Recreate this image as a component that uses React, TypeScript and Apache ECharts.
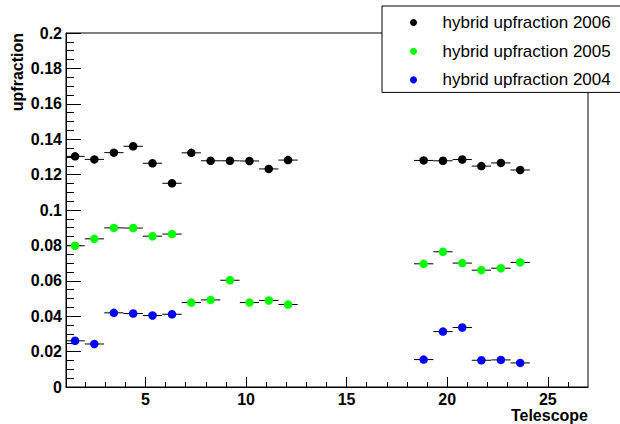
import React, { useEffect, useRef } from "react";
import * as echarts from "echarts";

// Telescope positions (x) for the two groups of telescopes
const telescopeX = [
  1.5, 2.46, 3.43, 4.39, 5.35, 6.32, 7.28, 8.24, 9.2, 10.17, 11.13, 12.09,
  18.83, 19.79, 20.75, 21.7, 22.67, 23.63,
];

// Up-going fraction per telescope and year
const up2006 = [
  0.1303, 0.1286, 0.1324, 0.136, 0.1264, 0.1151, 0.1323, 0.1278, 0.1278, 0.1277, 0.1232, 0.1282,
  0.128, 0.1278, 0.1285, 0.1248, 0.1266, 0.1226,
];
const up2005 = [
  0.0798, 0.0837, 0.0899, 0.0898, 0.0852, 0.0864, 0.0477, 0.0492, 0.0603, 0.0477, 0.0489, 0.0466,
  0.0696, 0.0764, 0.07, 0.066, 0.0671, 0.0704,
];
const up2004: (number | null)[] = [
  0.0261, 0.0243, 0.0419, 0.0415, 0.0404, 0.0411, null, null, null, null, null, null,
  0.0155, 0.0313, 0.0336, 0.0151, 0.0153, 0.0136,
];

const seriesNames = ["hybrid upfraction 2006", "hybrid upfraction 2005", "hybrid upfraction 2004"];
const seriesColors = ["#000000", "#00ff00", "#0000ff"];
const seriesValues = [up2006, up2005, up2004];

// Half width of the horizontal error bars (in telescope units)
const X_ERR = 0.48;

const xMajorTicks = [5, 10, 15, 20, 25];
const xMinorTicks = [2, 3, 4, 6, 7, 8, 9, 11, 12, 13, 14, 16, 17, 18, 19, 21, 22, 23, 24, 26];

const FONT = "Liberation Sans, Arial, Helvetica, sans-serif";

export default function App() {
  const ref = useRef<HTMLDivElement>(null);

  useEffect(() => {
    if (!ref.current) return;
    const chart = echarts.init(ref.current, undefined, { renderer: "svg" });

    const points = seriesValues.map((vals) =>
      telescopeX
        .map((x, i) => [x, vals[i]])
        .filter((p) => p[1] !== null && p[1] !== undefined)
    );

    const errorBars = points.map((data, k) => ({
      type: "custom" as const,
      name: seriesNames[k] + " err",
      xAxisIndex: 0,
      yAxisIndex: 0,
      clip: true,
      silent: true,
      data,
      renderItem: (_params: any, api: any) => {
        const x = api.value(0);
        const y = api.value(1);
        const a = api.coord([x - X_ERR, y]);
        const b = api.coord([x + X_ERR, y]);
        return {
          type: "line",
          shape: { x1: a[0], y1: a[1], x2: b[0], y2: b[1] },
          style: { stroke: "#000", lineWidth: 1 },
        };
      },
      z: 1,
    }));

    const markers = points.map((data, k) => ({
      type: "scatter" as const,
      name: seriesNames[k],
      xAxisIndex: 0,
      yAxisIndex: 0,
      symbol: "circle",
      symbolSize: 8.5,
      itemStyle: { color: seriesColors[k], opacity: 1 },
      data,
      z: 2,
    }));

    const labelStyle = {
      color: "#000",
      fontFamily: FONT,
      fontWeight: "bold" as const,
      fontSize: 16,
    };

    chart.setOption({
      animation: false,
      backgroundColor: "#fff",
      grid: {
        left: 66,
        right: 32,
        top: 33,
        bottom: 37,
        show: true,
        borderColor: "#000",
        borderWidth: 1,
        backgroundColor: "transparent",
      },
      xAxis: [
        {
          type: "value",
          min: 1.05,
          max: 27,
          position: "bottom",
          axisLine: { show: true, onZero: false, lineStyle: { color: "#000", width: 1 } },
          axisTick: { show: true, inside: true, length: 10, customValues: xMajorTicks, lineStyle: { color: "#000" } },
          axisLabel: { ...labelStyle, margin: 4, customValues: xMajorTicks },
          splitLine: { show: false },
        },
        {
          type: "value",
          min: 1.05,
          max: 27,
          position: "bottom",
          axisLine: { show: false },
          axisTick: { show: true, inside: true, length: 5, customValues: xMinorTicks, lineStyle: { color: "#000" } },
          axisLabel: { show: false },
          splitLine: { show: false },
        },
      ],
      yAxis: {
        type: "value",
        min: 0,
        max: 0.2,
        interval: 0.02,
        axisLine: { show: true, onZero: false, lineStyle: { color: "#000", width: 1 } },
        axisTick: { show: true, inside: true, length: 15, lineStyle: { color: "#000" } },
        minorTick: { show: true, splitNumber: 4, length: 8, lineStyle: { color: "#000" } },
        axisLabel: {
          ...labelStyle,
          margin: 4,
          formatter: (v: number) => String(+v.toFixed(3)),
        },
        splitLine: { show: false },
        minorSplitLine: { show: false },
      },
      legend: {
        data: seriesNames,
        orient: "vertical",
        left: 382,
        top: 6,
        icon: "circle",
        itemWidth: 48,
        itemHeight: 7,
        itemGap: 11.7,
        padding: [8, 10, 4, 28],
        backgroundColor: "#fff",
        borderColor: "#000",
        borderWidth: 1,
        borderRadius: 0,
        selectedMode: false,
        itemStyle: { opacity: 1 },
        textStyle: { color: "#000", fontFamily: FONT, fontSize: 17 },
        z: 10,
      },
      graphic: [
        {
          type: "text",
          x: 17,
          y: 33,
          rotation: Math.PI / 2,
          style: {
            text: "upfraction",
            align: "right",
            verticalAlign: "middle",
            fill: "#000",
            font: `bold 16px ${FONT}`,
          },
        },
        {
          type: "text",
          x: 588,
          y: 415,
          style: {
            text: "Telescope",
            align: "right",
            verticalAlign: "middle",
            fill: "#000",
            font: `bold 16px ${FONT}`,
          },
        },
      ],
      series: [...errorBars, ...markers],
    });

    return () => chart.dispose();
  }, []);

  return (
    <div
      ref={ref}
      style={{ position: "absolute", left: 0, top: 0, width: 620, height: 424, background: "#fff" }}
    />
  );
}
